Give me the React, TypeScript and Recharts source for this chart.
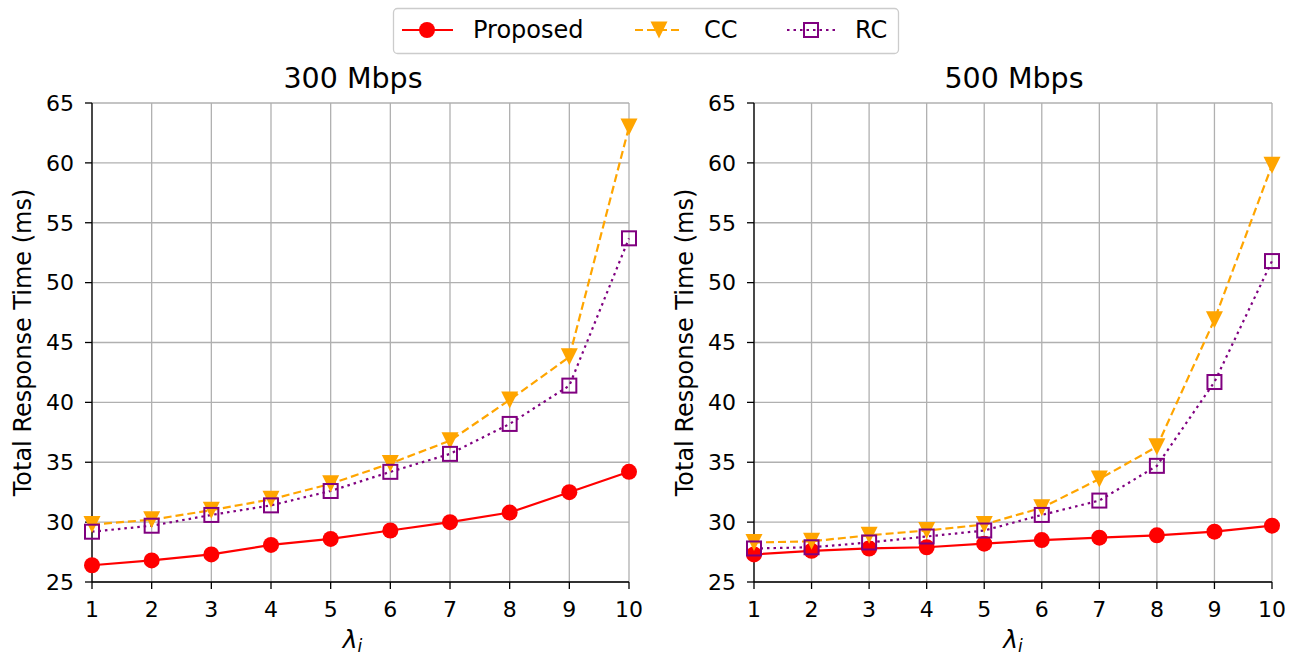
import React from 'react';
import { LineChart, Line, XAxis, YAxis, CartesianGrid } from 'recharts';

const lambdas = [1, 2, 3, 4, 5, 6, 7, 8, 9, 10];
const yTicks = [25, 30, 35, 40, 45, 50, 55, 60, 65];

const proposed300 = [26.4, 26.8, 27.3, 28.1, 28.6, 29.3, 30.0, 30.8, 32.5, 34.2];
const cc300 = [29.8, 30.2, 31.0, 31.9, 33.2, 34.9, 36.8, 40.2, 43.8, 63.0];
const rc300 = [29.2, 29.7, 30.6, 31.4, 32.6, 34.2, 35.7, 38.2, 41.4, 53.7];

const proposed500 = [27.3, 27.6, 27.8, 27.9, 28.2, 28.5, 28.7, 28.9, 29.2, 29.7];
const cc500 = [28.3, 28.4, 28.9, 29.3, 29.8, 31.2, 33.6, 36.3, 46.9, 59.8];
const rc500 = [27.8, 27.9, 28.3, 28.8, 29.3, 30.6, 31.8, 34.7, 41.7, 51.8];

const FONT = '"DejaVu Sans", sans-serif';
const RED = '#ff0000';
const ORANGE = '#ffa500';
const PURPLE = '#800080';

const buildRows = (p: number[], c: number[], r: number[]) =>
    lambdas.map((x, i) => ({ x, proposed: p[i], cc: c[i], rc: r[i] }));

const CircleMark = (cx: number, cy: number, key?: any) => (
    <circle key={key} cx={cx} cy={cy} r={8} fill={RED} />
);
const TriangleMark = (cx: number, cy: number, key?: any) => (
    <path
        key={key}
        d={`M${cx - 8.5},${cy - 8.5} L${cx + 8.5},${cy - 8.5} L${cx},${cy + 8.5} Z`}
        fill={ORANGE}
    />
);
const SquareMark = (cx: number, cy: number, key?: any) => (
    <rect key={key} x={cx - 7} y={cy - 7} width={14} height={14} fill="none" stroke={PURPLE} strokeWidth={2} />
);

const YLabel = (props: any) => {
    const vb = props.viewBox;
    const cx = vb.x + vb.width - 61;
    const cy = vb.y + vb.height / 2;
    return (
        <text
            x={cx}
            y={cy}
            transform={`rotate(-90 ${cx} ${cy})`}
            textAnchor="middle"
            fontSize={24}
            fontFamily={FONT}
            fill="#000"
        >
            Total Response Time (ms)
        </text>
    );
};

const makeXLabel = (shift: number) => (props: any) => {
    const vb = props.viewBox;
    const cx = vb.x + vb.width / 2 + shift;
    return (
        <text x={cx} y={648} textAnchor="middle" fontSize={25} fontFamily={FONT} fill="#000">
            <tspan fontStyle="italic">λ</tspan>
            <tspan fontStyle="italic" fontSize={17} dy={4}>i</tspan>
        </text>
    );
};

interface PanelProps {
    rows: Array<{ x: number; proposed: number; cc: number; rc: number }>;
    width: number;
    axisWidth: number;
    rightMargin: number;
    labelShift: number;
}

const Panel: React.FC<PanelProps> = ({ rows, width, axisWidth, rightMargin, labelShift }) => (
    <LineChart
        width={width}
        height={658}
        data={rows}
        margin={{ top: 103, right: rightMargin, bottom: 0, left: 0 }}
    >
        <CartesianGrid stroke="#b0b0b0" strokeWidth={1.3} />
        <XAxis
            dataKey="x"
            type="number"
            domain={[1, 10]}
            ticks={lambdas}
            height={76}
            tickSize={7}
            tickMargin={12}
            axisLine={{ stroke: '#000', strokeWidth: 1.3 }}
            tickLine={{ stroke: '#000', strokeWidth: 1.3 }}
            tick={{ fontSize: 22, fill: '#000', fontFamily: FONT }}
            label={{ content: makeXLabel(labelShift) }}
        />
        <XAxis
            xAxisId="top"
            orientation="top"
            dataKey="x"
            type="number"
            domain={[1, 10]}
            height={0}
            tick={false}
            tickLine={false}
            axisLine={{ stroke: '#000', strokeWidth: 1.3 }}
        />
        <YAxis
            type="number"
            domain={[25, 65]}
            ticks={yTicks}
            width={axisWidth}
            tickSize={7}
            tickMargin={11}
            axisLine={{ stroke: '#000', strokeWidth: 1.3 }}
            tickLine={{ stroke: '#000', strokeWidth: 1.3 }}
            tick={{ fontSize: 22, fill: '#000', fontFamily: FONT }}
            label={{ content: YLabel }}
        />
        <YAxis
            yAxisId="right"
            orientation="right"
            type="number"
            domain={[25, 65]}
            width={0}
            tick={false}
            tickLine={false}
            axisLine={{ stroke: '#000', strokeWidth: 1.3 }}
        />
        <Line
            dataKey="proposed"
            stroke={RED}
            strokeWidth={2.2}
            dot={(p: any) => CircleMark(p.cx, p.cy, p.index)}
            isAnimationActive={false}
        />
        <Line
            dataKey="cc"
            stroke={ORANGE}
            strokeWidth={2.2}
            strokeDasharray="8 4"
            dot={(p: any) => TriangleMark(p.cx, p.cy, p.index)}
            isAnimationActive={false}
        />
        <Line
            dataKey="rc"
            stroke={PURPLE}
            strokeWidth={2.2}
            strokeDasharray="2.5 4"
            dot={(p: any) => SquareMark(p.cx, p.cy, p.index)}
            isAnimationActive={false}
        />
    </LineChart>
);

const Overlay = () => (
    <svg
        width={1298}
        height={658}
        style={{ position: 'absolute', left: 0, top: 0, pointerEvents: 'none' }}
        fontFamily={FONT}
    >
        <text x={353} y={88} textAnchor="middle" fontSize={28.5} fill="#000">300 Mbps</text>
        <text x={1014} y={88} textAnchor="middle" fontSize={28.5} fill="#000">500 Mbps</text>
        <rect x={393.5} y={8.5} width={505} height={45} rx={4} fill="#fff" stroke="#cccccc" strokeWidth={1.3} />
        <line x1={402} y1={30} x2={453} y2={30} stroke={RED} strokeWidth={2.2} />
        {CircleMark(427, 30)}
        <text x={473} y={38} fontSize={24} fill="#000">Proposed</text>
        <line x1={635} y1={30} x2={683} y2={30} stroke={ORANGE} strokeWidth={2.2} strokeDasharray="8 4" />
        {TriangleMark(659, 30)}
        <text x={704} y={38} fontSize={24} fill="#000">CC</text>
        <line x1={787} y1={30} x2={835} y2={30} stroke={PURPLE} strokeWidth={2.2} strokeDasharray="2.5 4" />
        {SquareMark(811, 30)}
        <text x={855} y={38} fontSize={24} fill="#000">RC</text>
    </svg>
);

export default function App() {
    return (
        <div style={{ position: 'absolute', left: 0, top: 0, width: 1298, height: 658, background: '#fff' }}>
            <div style={{ position: 'absolute', left: 0, top: 0 }}>
                <Panel
                    rows={buildRows(proposed300, cc300, rc300)}
                    width={650}
                    axisWidth={92}
                    rightMargin={21}
                    labelShift={-8}
                />
            </div>
            <div style={{ position: 'absolute', left: 650, top: 0 }}>
                <Panel
                    rows={buildRows(proposed500, cc500, rc500)}
                    width={648}
                    axisWidth={104}
                    rightMargin={26}
                    labelShift={0}
                />
            </div>
            <Overlay />
        </div>
    );
}
